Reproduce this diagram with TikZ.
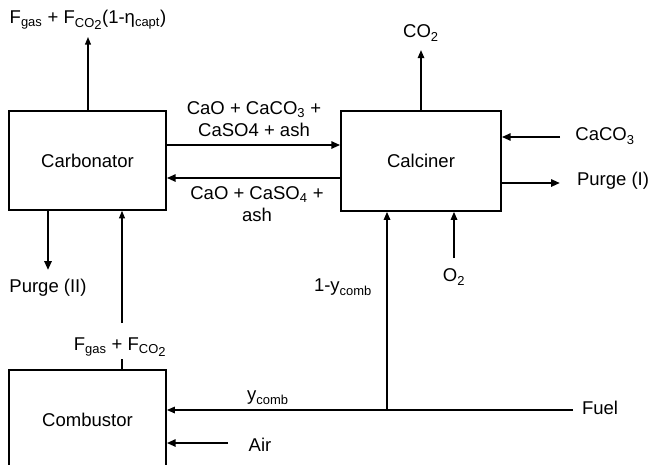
\documentclass[tikz,border=0pt]{standalone}
\usepackage{fontspec}
\setmainfont{Liberation Sans}
\usetikzlibrary{arrows.meta}
\newcommand{\lowtwo}{\raisebox{-0.35ex}{2}}

\begin{document}
\begin{tikzpicture}[x=0.03cm, y=-0.03cm,
    every node/.style={font=\fontsize{15.8}{18.8}\selectfont, inner sep=1pt},
    unit/.style={draw, line width=1.3pt},
    thinarr/.style={line width=1.1pt, -{Triangle[length=6.5pt,width=5pt]}},
    midarr/.style={line width=1.5pt, -{Triangle[length=7pt,width=5.5pt]}},
    heavyarr/.style={line width=2.1pt, -{Triangle[length=7.5pt,width=6pt]}}]
    \useasboundingbox (0,0) rectangle (652,464);
    \clip (0,0) rectangle (652,464);
    % reactors
    \node[unit, minimum width=4.71cm, minimum height=2.97cm] (carb) at (87.5,160.5) {Carbonator};
    \node[unit, minimum width=4.8cm, minimum height=3cm] (calc) at (421,161) {Calciner};
    \node[unit, minimum width=4.71cm, minimum height=3cm] (comb) at (87.5,420) {Combustor};
    % stream labels
    \node (fgasout) at (88,20) {F\textsubscript{gas} + F\textsubscript{CO\lowtwo}(1-η\textsubscript{capt})};
    \node (co2out) at (421,33) {CO\textsubscript{2}};
    \node[align=center] (solids1) at (254,119) {CaO + CaCO\textsubscript{3} +\\CaSO4 + ash};
    \node[align=center] (solids2) at (257,204) {CaO + CaSO\textsubscript{4} +\\ash};
    \node (caco3) at (605,136) {CaCO\textsubscript{3}};
    \node (purge1) at (613,181) {Purge (I)};
    \node (purge2) at (48,288) {Purge (II)};
    \node (o2) at (454,277) {O\textsubscript{2}};
    \node (ycombup) at (343,287) {1-y\textsubscript{comb}};
    \node (ycomb) at (268,398) {y\textsubscript{comb}};
    \node (fuel) at (600,408) {Fuel};
    \node (air) at (260,445) {Air};
    \node (fluegas) at (120,347) {F\textsubscript{gas} + F\textsubscript{CO\lowtwo}};
    % free ends
    \coordinate (gastip) at (88,37);
    \coordinate (co2tip) at (421,50);
    \coordinate (uplane) at (0,145);
    \coordinate (dnlane) at (0,178);
    \coordinate (caco3in) at (560,137);
    \coordinate (purge1out) at (560,183);
    \coordinate (o2in) at (454,258);
    \coordinate (fuelin) at (573,410);
    \coordinate (split) at (387,410);
    \coordinate (airin) at (228,443);
    \coordinate (purge2out) at (48,270);
    \coordinate (riser) at (122,323);
    \coordinate (riserlow) at (122,359);
    % streams
    \draw[thinarr] (carb.north -| gastip) -- (gastip);
    \draw[midarr] (calc.north) -- (co2tip);
    \draw[heavyarr] (carb.east |- uplane) -- (calc.west |- uplane);
    \draw[heavyarr] (calc.west |- dnlane) -- (carb.east |- dnlane);
    \draw[heavyarr] (caco3in) -- (calc.east |- caco3in);
    \draw[heavyarr] (calc.east |- purge1out) -- (purge1out);
    \draw[midarr] (o2in) -- (calc.south -| o2in);
    \draw[midarr] (fuelin) -- (comb.east |- fuelin);
    \draw[midarr] (split) -- (calc.south -| split);
    \draw[heavyarr] (airin) -- (comb.east |- airin);
    \draw[heavyarr] (carb.south -| purge2out) -- (purge2out);
    \draw[line width=1.1pt] (comb.north -| riserlow) -- (riserlow);
    \draw[thinarr] (riser) -- (carb.south -| riser);
\end{tikzpicture}
\end{document}
